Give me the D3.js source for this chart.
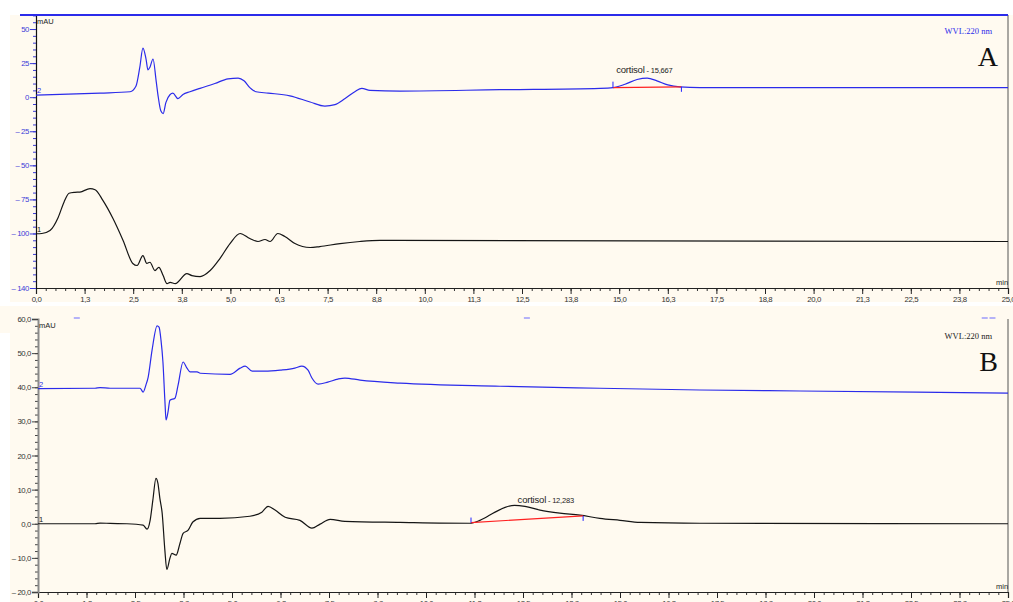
<!DOCTYPE html>
<html>
<head>
<meta charset="utf-8">
<script src="https://cdn.jsdelivr.net/npm/d3@7"></script>
<style>
  html, body { margin: 0; padding: 0; background: #ffffff; }
  svg { display: block; }
</style>
</head>
<body>
<svg id="chart" width="1013" height="602" font-family="Liberation Sans, DejaVu Sans, sans-serif"></svg>
<script>
// ---- Run A: time (min) / signal (mAU) ----
const aTrace2Time = [0, 1.65, 2.42, 2.57, 2.67, 2.75, 2.83, 2.88, 2.93, 3.01, 3.09, 3.14, 3.21, 3.27, 3.34, 3.45, 3.52, 3.65, 3.78, 3.96, 4.22, 4.60, 4.94, 5.20, 5.35, 5.50, 5.66, 5.97, 6.53, 7.05, 7.43, 7.69, 7.95, 8.20, 8.38, 8.59, 9.36, 11.93, 14.51, 14.84, 15.15, 15.46, 15.72, 15.97, 16.25, 16.56, 17.08, 19.65, 25];
const aTrace2Value = [1.5, 3, 4, 8, 22, 36, 28, 20, 22, 28, 12, 1, -10, -12, -4, 2, 3, -1, 2, 4, 6.5, 10, 13.5, 14, 12, 7, 4, 3, 1, -3.5, -6.5, -5.5, -1, 4, 6.5, 5, 4.5, 5.5, 6.5, 7, 9.5, 13, 14, 12, 9, 7.5, 7, 7, 7];

const aTrace1Time = [0, 0.15, 0.36, 0.57, 0.72, 0.85, 1.0, 1.13, 1.39, 1.52, 1.72, 1.98, 2.24, 2.49, 2.60, 2.75, 2.85, 2.93, 3.06, 3.16, 3.27, 3.37, 3.45, 3.58, 3.88, 4.01, 4.22, 4.48, 4.73, 4.99, 5.25, 5.50, 5.71, 5.89, 6.02, 6.22, 6.40, 6.66, 7.05, 7.30, 7.82, 8.33, 8.85, 25];
const aTrace1Value = [-100.2, -100, -97.8, -88.2, -77, -70.5, -69.8, -69.6, -67.1, -67.9, -75.7, -89, -105.1, -122, -123.5, -116.2, -122, -121.1, -127.2, -124.8, -130.9, -136.8, -135.8, -136.8, -129.4, -130.9, -131.6, -127.2, -118.4, -107.4, -100, -103.7, -105.9, -104.4, -105.9, -100, -102.2, -107.4, -110.3, -109.6, -107.4, -105.9, -105.1, -105.9];

// ---- Run B ----
const bTrace2Time = [0, 1.47, 1.60, 1.86, 2.24, 2.63, 2.71, 2.78, 2.84, 2.94, 3.07, 3.12, 3.17, 3.22, 3.27, 3.30, 3.35, 3.40, 3.53, 3.61, 3.74, 3.84, 3.92, 4.10, 4.18, 4.95, 5.21, 5.34, 5.52, 5.85, 6.24, 6.62, 6.80, 6.96, 7.06, 7.22, 7.47, 7.73, 7.91, 8.30, 9.33, 11.91, 14.48, 17.06, 19.64, 25];
const bTrace2Value = [39.6, 39.7, 39.9, 39.7, 39.7, 39.7, 38.6, 40.6, 43, 50.9, 58, 57.6, 53.8, 47.4, 36.2, 30.4, 32.7, 36.2, 36.8, 40.6, 47.4, 45.6, 44.5, 44.5, 44.1, 43.8, 45.6, 46.2, 44.7, 44.7, 45, 45.6, 46.2, 45, 42.7, 40.9, 41.5, 42.4, 42.7, 42.1, 41.2, 40.3, 39.7, 39.2, 38.9, 38.3];

const bTrace1Time = [0, 1.47, 1.60, 1.86, 2.29, 2.71, 2.81, 2.89, 2.96, 3.04, 3.09, 3.14, 3.20, 3.27, 3.32, 3.40, 3.45, 3.56, 3.66, 3.74, 3.87, 3.99, 4.18, 4.69, 5.46, 5.77, 5.93, 6.11, 6.37, 6.75, 7.06, 7.27, 7.53, 7.91, 9.33, 11.13, 11.39, 11.78, 12.04, 12.283, 12.55, 12.94, 13.45, 13.97, 14.48, 15.00, 15.52, 17.06, 25];
const bTrace1Value = [0, 0, 0.2, 0.1, 0, -0.4, -1.6, 1, 6.9, 13.3, 11.9, 7.5, 3.1, -7.8, -13.4, -10.1, -8.7, -9.2, -5.7, -2.8, -1.9, 0.5, 1.6, 1.6, 2.2, 3.4, 5.1, 4, 1.9, 1, -1.3, -0.1, 1.3, 0.7, 0.4, 0.15, 1, 3.4, 4.8, 5.4, 5.1, 4, 3.1, 2.5, 1.6, 1, 0.4, 0.15, 0];

// integrated peaks: [start time, start value, end time, end value], retention time
const aPeakBase = [14.84, 7, 16.6, 7.6];
const aPeakRT = "15,667";
const bPeakBase = [11.16, 0.35, 14.05, 2.3];
const bPeakRT = "12,283";
const peakName = "cortisol";

// axis ticks
const xTickValues = [0, 1.25, 2.5, 3.75, 5, 6.25, 7.5, 8.75, 10, 11.25, 12.5, 13.75, 15, 16.25, 17.5, 18.75, 20, 21.25, 22.5, 23.75, 25];
const xTickLabels = ["0,0", "1,3", "2,5", "3,8", "5,0", "6,3", "7,5", "8,8", "10,0", "11,3", "12,5", "13,8", "15,0", "16,3", "17,5", "18,8", "20,0", "21,3", "22,5", "23,8", "25,0"];
const aYTickValues = [50, 25, 0, -25, -50, -75, -100, -140];
const aYTickLabels = ["50", "25", "0", "\u2013 25", "\u2013 50", "\u2013 75", "\u2013 100", "\u2013 140"];
const bYTickValues = [60, 50, 40, 30, 20, 10, 0, -10, -20];
const bYTickLabels = ["60,0", "50,0", "40,0", "30,0", "20,0", "10,0", "0,0", "\u2013 10,0", "\u2013 20,0"];

const wavelengthLabel = "WVL:220 nm";
const unitLabel = "mAU";
const timeUnit = "min";

const cream = "#fffaf0";
const blue = "#2b2bea";
const black = "#151515";
const sans = "Liberation Sans, DejaVu Sans, sans-serif";
const serif = "Liberation Serif, DejaVu Serif, serif";

const svg = d3.select("#chart");
svg.append("rect").attr("width", 1013).attr("height", 602).attr("fill", "#ffffff");

function drawPanel(cfg) {
  const g = svg.append("g");
  g.append("rect").attr("x", cfg.bg[0]).attr("y", cfg.bg[1]).attr("width", cfg.bg[2]).attr("height", cfg.bg[3]).attr("fill", cream);

  const x = d3.scaleLinear().domain([0, 25]).range([cfg.left, cfg.right]);
  const y = d3.scaleLinear().domain(cfg.yDomain).range([cfg.bottom, cfg.top]);

  // minor x ticks
  const minorX = d3.range(0, 25.001, 0.25);
  g.append("g").attr("transform", `translate(0,${cfg.bottom})`)
    .call(d3.axisBottom(x).tickValues(minorX).tickSize(3).tickFormat(""))
    .call(a => a.select(".domain").remove())
    .call(a => a.selectAll("line").attr("stroke", "#333"));
  // major x ticks
  const xa = g.append("g").attr("transform", `translate(0,${cfg.bottom})`)
    .call(d3.axisBottom(x).tickValues(xTickValues).tickSize(6).tickPadding(2)
      .tickFormat((d, i) => xTickLabels[i]));
  xa.attr("font-family", sans);
  xa.select(".domain").attr("stroke", "#222").attr("stroke-width", 1.2);
  xa.selectAll("line").attr("stroke", "#222");
  xa.selectAll("text").attr("fill", "#333").attr("font-size", 7.8).attr("letter-spacing", "-0.4px");

  // minor y ticks
  const minorY = d3.range(cfg.yMinorStart, cfg.yDomain[1] + 0.001, cfg.yMinor);
  g.append("g").attr("transform", `translate(${cfg.left},0)`)
    .call(d3.axisLeft(y).tickValues(minorY).tickSize(3).tickFormat(""))
    .call(a => a.select(".domain").remove())
    .call(a => a.selectAll("line").attr("stroke", cfg.yTickColor));
  const ya = g.append("g").attr("transform", `translate(${cfg.left},0)`)
    .call(d3.axisLeft(y).tickValues(cfg.yTicks).tickSize(6).tickPadding(1)
      .tickFormat((d, i) => cfg.yLabels[i]));
  ya.attr("font-family", sans);
  ya.select(".domain").attr("stroke", cfg.yAxisColor).attr("stroke-width", cfg.yAxisWidth);
  ya.selectAll("line").attr("stroke", cfg.yTickColor);
  ya.selectAll("text").attr("fill", cfg.yLabelColor).attr("font-size", 7.8).attr("letter-spacing", "-0.4px");

  // right frame line
  g.append("line").attr("x1", cfg.right).attr("x2", cfg.right).attr("y1", cfg.frameTop).attr("y2", cfg.bottom)
    .attr("stroke", "#555").attr("stroke-width", 1);

  // traces
  const line = d3.line().x(d => x(d[0])).y(d => y(d[1])).curve(d3.curveMonotoneX);
  const clip = "clip" + cfg.id;
  g.append("clipPath").attr("id", clip).append("rect")
    .attr("x", cfg.left).attr("y", cfg.top - 5).attr("width", cfg.right - cfg.left).attr("height", cfg.bottom - cfg.top + 5);
  const plot = g.append("g").attr("clip-path", `url(#${clip})`);
  plot.append("path").datum(d3.zip(cfg.t1, cfg.v1)).attr("d", line)
    .attr("fill", "none").attr("stroke", black).attr("stroke-width", 1.2);
  plot.append("path").datum(d3.zip(cfg.t2, cfg.v2)).attr("d", line)
    .attr("fill", "none").attr("stroke", blue).attr("stroke-width", 1.2);

  // integration baseline and peak markers
  const pb = cfg.peakBase;
  g.append("line").attr("x1", x(pb[0])).attr("y1", y(pb[1])).attr("x2", x(pb[2])).attr("y2", y(pb[3]))
    .attr("stroke", "#ff2020").attr("stroke-width", 1.2);
  g.append("line").attr("x1", x(pb[0])).attr("x2", x(pb[0]))
    .attr("y1", y(pb[1]) + cfg.mark1[0]).attr("y2", y(pb[1]) + cfg.mark1[1]).attr("stroke", "#2020ff");
  g.append("line").attr("x1", x(pb[2])).attr("x2", x(pb[2]))
    .attr("y1", y(pb[3]) + cfg.mark2[0]).attr("y2", y(pb[3]) + cfg.mark2[1]).attr("stroke", "#2020ff");

  const lbl = g.append("text").attr("x", x(cfg.peakRTval) + cfg.peakLabelDx).attr("y", cfg.peakLabelY)
    .attr("fill", "#222").attr("font-size", 9.5).attr("font-family", sans)
    .attr("letter-spacing", "-0.2px");
  lbl.append("tspan").text(peakName);
  lbl.append("tspan").attr("font-size", 7.5).text(" - " + cfg.peakRT);

  // unit labels
  g.append("text").attr("x", cfg.left + 1).attr("y", cfg.mauY).attr("font-size", 7.5).attr("fill", "#222").text(unitLabel);
  g.append("text").attr("x", cfg.right - 12).attr("y", cfg.bottom - 3).attr("font-size", 7.5).attr("fill", "#222").text(timeUnit);

  // trace numbers
  g.append("text").attr("x", cfg.left + 1).attr("y", y(cfg.v2[0]) - 2).attr("font-size", 7.5).attr("fill", blue).text("2");
  g.append("text").attr("x", cfg.left + 1).attr("y", y(cfg.v1[0]) - 2).attr("font-size", 7.5).attr("fill", black).text("1");

  // wavelength and panel letter
  g.append("text").attr("x", 992).attr("y", cfg.wvlY).attr("text-anchor", "end")
    .attr("font-family", serif).attr("font-size", 8.5).attr("fill", cfg.wvlColor).text(wavelengthLabel);
  g.append("text").attr("x", 998).attr("y", cfg.letterY).attr("text-anchor", "end")
    .attr("font-family", serif).attr("font-size", 28).attr("fill", "#111").text(cfg.letter);
  return { g, x, y };
}

// Panel A
const pa = drawPanel({
  id: "A", bg: [10, 15, 1003, 287], left: 36, right: 1008, top: 15, bottom: 288, frameTop: 15,
  yDomain: [-140, 60.3], yTicks: aYTickValues, yLabels: aYTickLabels, yMinor: 5, yMinorStart: -140,
  yAxisColor: "#111", yAxisWidth: 1.2, yTickColor: "#3a3ad8", yLabelColor: "#3a3ad8",
  t1: aTrace1Time, v1: aTrace1Value, t2: aTrace2Time, v2: aTrace2Value,
  peakBase: aPeakBase, peakRT: aPeakRT, peakRTval: 15.667, peakLabelDx: -29, peakLabelY: 73,
  mark1: [-6, 0], mark2: [0, 5],
  mauY: 24, wvlY: 34, wvlColor: "#2b2bea", letterY: 66, letter: "A"
});
// blue header rule of panel A
pa.g.append("line").attr("x1", 20).attr("x2", 1008).attr("y1", 15).attr("y2", 15)
  .attr("stroke", "#2b2bea").attr("stroke-width", 2);

// Panel B
svg.append("rect").attr("x", 0).attr("y", 306).attr("width", 12).attr("height", 27).attr("fill", cream);
const pbn = drawPanel({
  id: "B", bg: [10, 306, 1003, 296], left: 38, right: 1008, top: 319, bottom: 592, frameTop: 319,
  yDomain: [-20, 60], yTicks: bYTickValues, yLabels: bYTickLabels, yMinor: 2, yMinorStart: -20,
  yAxisColor: "#8a8a8a", yAxisWidth: 2, yTickColor: "#444", yLabelColor: "#333",
  t1: bTrace1Time, v1: bTrace1Value, t2: bTrace2Time, v2: bTrace2Value,
  peakBase: bPeakBase, peakRT: bPeakRT, peakRTval: 12.283, peakLabelDx: 3, peakLabelY: 503,
  mark1: [-5, 0], mark2: [0, 5],
  mauY: 328, wvlY: 339, wvlColor: "#222", letterY: 371, letter: "B"
});
// trace markers along top edge of panel B
[1, 12.6, 24.4, 24.6].forEach(t => {
  const xx = pbn.x(t);
  svg.append("line").attr("x1", xx - 3).attr("x2", xx + 3).attr("y1", 318).attr("y2", 318)
    .attr("stroke", "#6a6aff").attr("stroke-width", 1);
});
</script>
</body>
</html>
